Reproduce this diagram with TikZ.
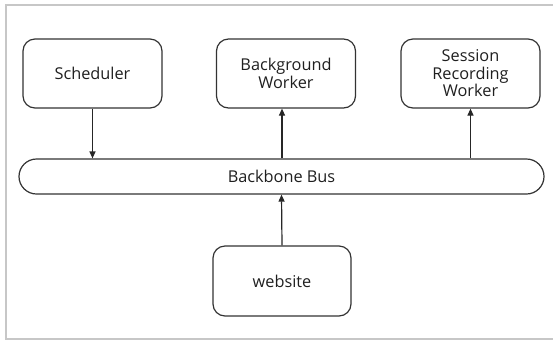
\documentclass[tikz,border=0pt]{standalone}
\usepackage{fontspec}
\setmainfont{Open Sans}
\usetikzlibrary{arrows.meta}
\begin{document}
\begin{tikzpicture}[x=1pt,y=-1pt,
  frame/.style={draw=black!22, line width=2pt},
  box/.style={draw=black!80, line width=1.2pt, rounded corners=12pt,
    minimum width=139pt, minimum height=69pt, align=center, inner sep=0pt,
    font=\fontsize{16.3}{17.5}\selectfont, text=black!88},
  busbox/.style={draw=black!80, line width=1.2pt, rounded corners=17.5pt,
    minimum width=525pt, minimum height=35pt, inner sep=0pt,
    font=\fontsize{16.3}{17.5}\selectfont, text=black!88},
  arr/.style={-{Triangle[length=7pt,width=6pt]}, line width=1.2pt, draw=black!85}
]
\useasboundingbox (0,0) rectangle (553,341);
\draw[frame] (554,5) -- (6,5) -- (6,339) -- (554,339);

\node[box] (sch) at (92.5,73.5) {Scheduler};
\node[box] (bg) at (286,73.5) {Background\\Worker};
\node[box] (ses) at (470.5,73.5) {Session\\Recording\\Worker};
\node[busbox] (bus) at (281.5,176.5) {Backbone Bus};
\node[box, minimum width=138pt, minimum height=70pt] (web) at (282,281) {website};

\draw[arr] (sch.south) -- (sch.south |- bus.north);
\draw[arr] (bus.north -| web.north) -- (bg.south -| web.north);
\draw[arr] (bus.north -| ses.south) -- (ses.south);
\draw[arr] (web.north) -- (bus.south);
\end{tikzpicture}
\end{document}
